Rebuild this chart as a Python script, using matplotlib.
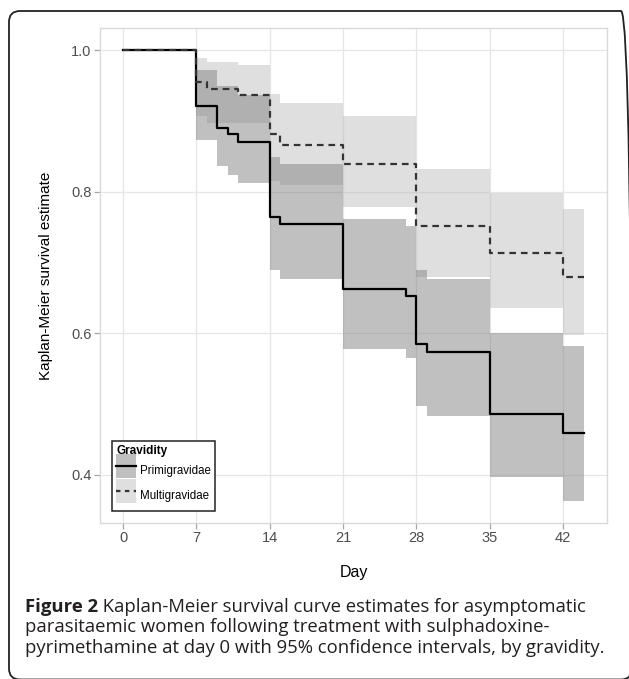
import matplotlib.pyplot as plt
from matplotlib.patches import Patch, FancyBboxPatch, Rectangle
from matplotlib.lines import Line2D
from matplotlib.legend_handler import HandlerPatch
from matplotlib.transforms import IdentityTransform

# Kaplan-Meier steps (value holds from each time until the next one), last time = end of follow-up
primi_time = [0, 7, 9, 10, 11, 14, 15, 21, 27, 28, 29, 35, 42, 44]
primi_surv = [1.0, 0.921, 0.891, 0.882, 0.871, 0.765, 0.755, 0.663, 0.652, 0.585, 0.573, 0.486, 0.459]
primi_lower = [1.0, 0.873, 0.836, 0.824, 0.812, 0.689, 0.677, 0.578, 0.565, 0.497, 0.483, 0.396, 0.363]
primi_upper = [1.0, 0.972, 0.950, 0.950, 0.937, 0.849, 0.840, 0.762, 0.752, 0.690, 0.677, 0.600, 0.582]

multi_time = [0, 7, 8, 11, 14, 15, 21, 28, 35, 42, 44]
multi_surv = [1.0, 0.955, 0.946, 0.937, 0.882, 0.866, 0.840, 0.751, 0.713, 0.680]
multi_lower = [1.0, 0.908, 0.898, 0.898, 0.815, 0.809, 0.778, 0.679, 0.635, 0.597]
multi_upper = [1.0, 0.990, 0.984, 0.980, 0.939, 0.926, 0.908, 0.832, 0.799, 0.776]

x_ticks = [0, 7, 14, 21, 28, 35, 42]
y_ticks = [0.4, 0.6, 0.8, 1.0]
labels = ['Primigravidae', 'Multigravidae']
caption_bold = 'Figure 2'
caption_text = (' Kaplan-Meier survival curve estimates for asymptomatic\n'
                'parasitaemic women following treatment with sulphadoxine-\n'
                'pyrimethamine at day 0 with 95% confidence intervals, by gravidity.')

plt.rcParams['font.family'] = ['Liberation Sans', 'DejaVu Sans']

W, H = 629, 679
fig = plt.figure(figsize=(W / 100, H / 100), dpi=100)
ax = fig.add_axes([100 / W, 1 - 523 / H, 507 / W, 495 / H])


def ext(v):
    return list(v) + [v[-1]]


multi_fill = dict(color='#b1b1b1', alpha=0.4, lw=0)
primi_fill = dict(color='#7d7d7d', alpha=0.48, lw=0)

ax.fill_between(multi_time, ext(multi_lower), ext(multi_upper), step='post', **multi_fill)
ax.fill_between(primi_time, ext(primi_lower), ext(primi_upper), step='post', **primi_fill)
ax.step(primi_time, ext(primi_surv), where='post', color='black', lw=1.6)
ax.step(multi_time, ext(multi_surv), where='post', color='#333333', lw=1.6, dashes=(3, 2.2))

ax.set_xlim(-2.2, 46.2)
ax.set_ylim(0.3315, 1.0318)
ax.set_xticks(x_ticks)
ax.set_yticks(y_ticks)
ax.set_yticklabels(['{:.1f}'.format(t) for t in y_ticks])
ax.grid(True, color='#e6e6e6', lw=0.9)
ax.set_axisbelow(True)
for s in ax.spines.values():
    s.set_color('#d9d9d9')
    s.set_linewidth(1.0)
ax.tick_params(length=4, width=0.9, color='#a6a6a6', labelcolor='#4d4d4d', labelsize=10.5, pad=2)
ax.set_xlabel('Day', fontsize=11.5, labelpad=14)
ax.set_ylabel('Kaplan-Meier survival estimate', fontsize=11, labelpad=13)


def key_rect(legend, orig_handle, xdescent, ydescent, width, height, fontsize):
    # centre the grey key on the line drawn over it
    return Rectangle((-xdescent, -ydescent / 2), width, height)


handles = [(Patch(**primi_fill), Line2D([], [], color='black', lw=1.6)),
           (Patch(**multi_fill), Line2D([], [], color='#333333', lw=1.6, dashes=(2, 2)))]
leg = ax.legend(handles, labels, title='Gravidity', loc='lower left',
                bbox_to_anchor=(0.0237, 0.024), borderaxespad=0, fontsize=8.3,
                title_fontproperties={'weight': 'bold', 'size': 8.5},
                handlelength=1.75, handleheight=2.8, labelspacing=0.1,
                handletextpad=0.3, borderpad=0.35, alignment='left',
                fancybox=False, framealpha=1, edgecolor='#222222',
                handler_map={Patch: HandlerPatch(patch_func=key_rect)})
leg.get_frame().set_linewidth(1.1)

# rounded frame around figure + caption (right and bottom edges fall just outside)
frame = FancyBboxPatch((9, -0.5), 623, H - 11 + 0.5, boxstyle='round,pad=0,rounding_size=11',
                       transform=IdentityTransform(), fill=False, ec='#222222', lw=1.3)
fig.add_artist(frame)

cap_x, cap_y = 25 / W, 1 - 607 / H
t = fig.text(cap_x, cap_y, caption_bold, fontsize=13.3, family='Open Sans',
             weight='bold', color='#231f20', va='center')
fig.canvas.draw()
bb = t.get_window_extent()
fig.text(bb.x1 / W, cap_y, caption_text.split('\n')[0], fontsize=13.3, family='Open Sans',
         color='#231f20', va='center')
for i, line in enumerate(caption_text.split('\n')[1:]):
    fig.text(cap_x, 1 - (607 + 20.3 * (i + 1)) / H, line, fontsize=13.3,
             family='Open Sans', color='#231f20', va='center')

fig.savefig('out.png', dpi=100)
